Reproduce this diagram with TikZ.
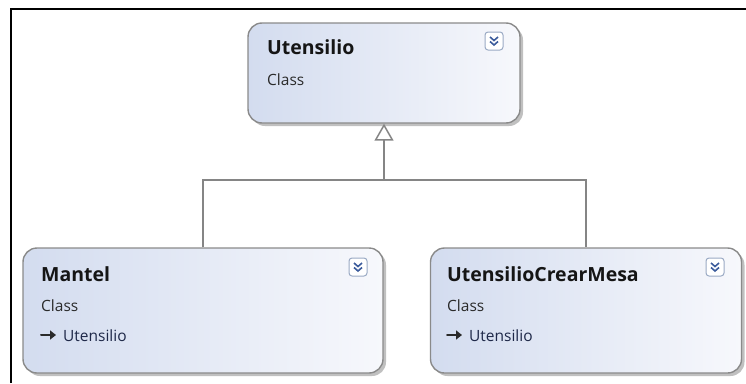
\documentclass[tikz,border=0pt]{standalone}
\usepackage{fontspec}
\setmainfont{Open Sans}
\usetikzlibrary{shadows,arrows.meta}

\definecolor{boxedge}{HTML}{8A8A8A}
\definecolor{boxleft}{HTML}{D3DCEF}
\definecolor{boxright}{HTML}{F7F8FC}
\definecolor{connline}{HTML}{858585}
\definecolor{titletext}{HTML}{151515}
\definecolor{subtext}{HTML}{2A2A2A}
\definecolor{basetext}{HTML}{1E2848}
\definecolor{iconedge}{HTML}{9AAAC4}
\definecolor{iconmark}{HTML}{3C5C9C}

\tikzset{
  classbox/.style={rectangle, rounded corners=14pt, draw=boxedge, line width=1.4pt,
    left color=boxleft, right color=boxright, inner sep=0pt,
    drop shadow={shadow xshift=3pt, shadow yshift=-3pt, fill=black!45, opacity=0.55}},
  conn/.style={draw=connline, line width=1.5pt},
  titlelbl/.style={anchor=base west, inner sep=0pt, font=\fontsize{19.5}{22}\selectfont\bfseries, text=titletext},
  kindlbl/.style={anchor=base west, inner sep=0pt, font=\fontsize{15.5}{18}\selectfont, text=subtext},
  baselbl/.style={anchor=base west, inner sep=0pt, font=\fontsize{15.5}{18}\selectfont, text=basetext},
  frameline/.style={draw=black, line width=1.5pt},
}

% collapse toggle drawn at a given top-left corner
\newcommand{\togglebox}[2]{%
  \begin{scope}[shift={(#1,#2)}]
    \draw[iconedge, fill=white, line width=1pt, rounded corners=3pt] (0,0) rectangle (18,18);
    \draw[iconmark, line width=1.6pt] (5,5) -- (9,8.5) -- (13,5);
    \draw[iconmark, line width=1.6pt] (5,9.5) -- (9,13) -- (13,9.5);
  \end{scope}}

% small inheritance arrow in front of the base class name
\newcommand{\basearrow}[2]{%
  \draw[subtext, line width=2pt, line cap=round, -{Triangle[length=6pt,width=9pt]}] (#1,#2) -- ++(15,0);}

\begin{document}
\begin{tikzpicture}[x=1pt,y=-1pt]
  \useasboundingbox (0,0) rectangle (746,383);

  % window frame edges
  \draw[frameline] (11,383) -- (11,9) -- (746,9);

  % class shapes
  \node[classbox, minimum width=272pt, minimum height=100pt] (uten) at (384,73) {};
  \node[classbox, minimum width=360pt, minimum height=125pt] (mantel) at (203,310.5) {};
  \node[classbox, minimum width=311pt, minimum height=125pt] (ucm) at (586,310.5) {};

  % Utensilio
  \node[titlelbl] (utenT) at (267,54) {Utensilio};
  \node[kindlbl] (utenK) at (267,85) {Class};
  \togglebox{485}{32}

  % Mantel
  \node[titlelbl] (mantelT) at (41,281) {Mantel};
  \node[kindlbl] (mantelK) at (41,311) {Class};
  \basearrow{41}{335}
  \node[baselbl] (mantelB) at (63,341) {Utensilio};
  \togglebox{349}{258}

  % UtensilioCrearMesa
  \node[titlelbl] (ucmT) at (447,281) {UtensilioCrearMesa};
  \node[kindlbl] (ucmK) at (447,311) {Class};
  \basearrow{447}{335}
  \node[baselbl] (ucmB) at (469,341) {Utensilio};
  \togglebox{706}{258}

  % generalization connectors
  \coordinate (join) at (384,180);
  \draw[conn] (mantel.north) -- (mantel.north |- join) -- (ucm.north |- join) -- (ucm.north);
  \draw[conn, -{Triangle[open, fill=white, length=17pt, width=19pt]}] (join) -- (uten.south);
\end{tikzpicture}
\end{document}
